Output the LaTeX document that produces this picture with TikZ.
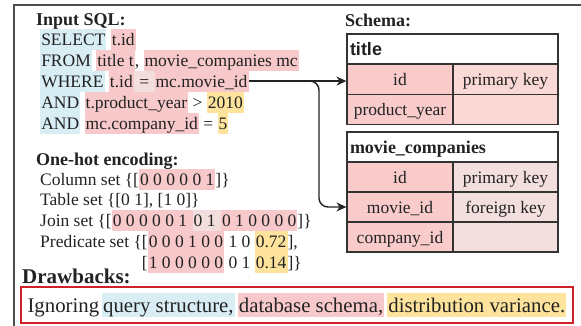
\documentclass[tikz,border=0pt]{standalone}
\usepackage{fontspec}
\setmainfont{Liberation Serif}
\newfontfamily\headsans{Liberation Sans}
\usetikzlibrary{arrows.meta}

\definecolor{ink}{HTML}{222222}
\definecolor{framegray}{HTML}{4D4D4D}
\definecolor{hlblue}{HTML}{D8EDF4}
\definecolor{hlpink}{HTML}{F8C9CB}
\definecolor{hlpale}{HTML}{F3DEDE}
\definecolor{hlyellow}{HTML}{FDE39B}
\definecolor{cellA}{HTML}{F9CBCB}
\definecolor{cellB}{HTML}{FAD8D5}
\definecolor{cellC}{HTML}{F4DFDF}
\definecolor{tabline}{HTML}{333333}
\definecolor{alertred}{HTML}{D0202A}

% highlighted word: a coloured box as tall as one text line
\newcommand{\hbx}[2]{{\setlength{\fboxsep}{0pt}\colorbox{#1}{\rule[-0.26em]{0pt}{1.2em}\kern0.06em#2\kern0.06em}}}
% narrow gap between neighbouring highlights
\newcommand{\hgap}{\hspace{0.13em}}

\tikzset{
  body/.style={font=\fontsize{17.5}{21}\selectfont, text=ink},
  textline/.style={body, anchor=base west, inner sep=0pt},
  heading/.style={font=\fontsize{18}{21}\selectfont\bfseries, text=ink, anchor=base west, inner sep=0pt},
  tabhead/.style={draw=tabline, line width=1.2pt, fill=white, text=ink, minimum height=30pt,
    text width=205pt, inner xsep=3pt, inner ysep=0pt, align=left, text height=13pt, text depth=1pt},
  cell/.style={body, draw=tabline, line width=1.2pt, inner sep=0pt, minimum height=30pt,
    text height=13pt, text depth=1pt},
  cellL/.style={cell, fill=cellA, minimum width=106pt},
  cellR/.style={cell, fill=cellB, minimum width=105pt},
  cellRm/.style={cell, fill=cellC, minimum width=105pt},
  conn/.style={draw=ink, line width=1.4pt, -{Stealth[length=10pt,width=9pt]}},
}

\begin{document}
\begin{tikzpicture}[x=1pt, y=-1pt]
\useasboundingbox (0,0) rectangle (581,325);
\fill[white] (0,0) rectangle (581,325);

% outer frame (runs off the right and bottom edges)
\draw[framegray, line width=1.6pt] (14,330) -- (14,5) -- (590,5);

% ---- input query ----
\node[heading] (sqlhead) at (36,25) {Input SQL:};
\node[textline] (l1) at (40,45) {\hbx{hlblue}{SELECT} \hbx{hlpink}{t.id}};
\node[textline] (l2) at (40,66) {\hbx{hlblue}{FROM} \hbx{hlpink}{title t}, \hbx{hlpink}{movie\_companies mc}};
\node[textline] (where) at (40,87) {\hbx{hlblue}{WHERE} \hbx{hlpink}{t.id}\hbx{hlpale}{~=~}\hbx{hlpink}{mc.movie\_id}};
\node[textline] (l4) at (40,108) {\hbx{hlblue}{AND} \hbx{hlpink}{t.product\_year} > \hbx{hlyellow}{2010}};
\node[textline] (l5) at (40,129) {\hbx{hlblue}{AND} \hbx{hlpink}{mc.company\_id} = \hbx{hlyellow}{5}};

% ---- one-hot encoding ----
\node[heading] (enchead) at (36,165) {One-hot encoding:};
\node[textline] (colset) at (40,185) {Column set \{[\hbx{hlpink}{0 0 0 0 0 1}]\}};
\node[textline] (tabset) at (40,205) {Table set \{[0 1], [1 0]\}};
\node[textline] (joinset) at (40,226) {Join set \{[\hbx{hlpink}{0 0 0 0 0 1~}\hbx{hlpale}{0 1~}\hbx{hlpink}{0 1 0 0 0 0}]\}};
\node[textline] (pred1) at (40,247) {Predicate set \{[\hbx{hlpink}{0 0 0 1 0 0} 1 0 \hbx{hlyellow}{0.72}],};
\node[textline] (pred2) at (40,268) {\phantom{Predicate set \{}[\hbx{hlpink}{1 0 0 0 0 0} 0 1 \hbx{hlyellow}{0.14}]\}};

% ---- schema tables ----
\node[heading] (schemahead) at (345,26) {Schema:};

\node[tabhead, font=\headsans\bfseries\fontsize{18}{21}\selectfont] (t-head) at (452.5,49) {title};
\node[cellL] (t-id) at (400,79.5) {id};
\node[cellR] (t-idk) at (505.5,79.5) {primary key};
\node[cellL] (t-py) at (400,109.5) {product\_year};
\node[cellR] (t-pyk) at (505.5,109.5) {};

\node[tabhead, font=\fontsize{18}{21}\selectfont\bfseries] (m-head) at (452.5,147) {movie\_companies};
\node[cellL] (m-id) at (400,177) {id};
\node[cellRm] (m-idk) at (505.5,177) {primary key};
\node[cellL] (m-mid) at (400,207) {movie\_id};
\node[cellRm] (m-midk) at (505.5,207) {foreign key};
\node[cellL] (m-cid) at (400,237) {company\_id};
\node[cellRm] (m-cidk) at (505.5,237) {};

% ---- join links ----
\coordinate (split) at ([xshift=45pt]where.east);
\coordinate (drop) at (319,150);
\draw[conn] (where.east) -- (where.east -| t-id.west);
\draw[conn, rounded corners=9pt] (split) -| (drop) |- (m-mid.west);

% ---- drawbacks ----
\node[heading, font=\fontsize{21}{24}\selectfont\bfseries] (drawhead) at (22,283) {Drawbacks:};
\node[draw=alertred, line width=2.5pt, fill=white, minimum width=552pt, minimum height=36pt, inner sep=0pt,
  font=\fontsize{20.8}{24}\selectfont, text=ink] (dbox) at (297,305)
  {Ignoring\hgap\hbx{hlblue}{query structure,}\hgap\hbx{hlpink}{database schema,}\hgap\hbx{hlyellow}{distribution variance.}};
\end{tikzpicture}
\end{document}
